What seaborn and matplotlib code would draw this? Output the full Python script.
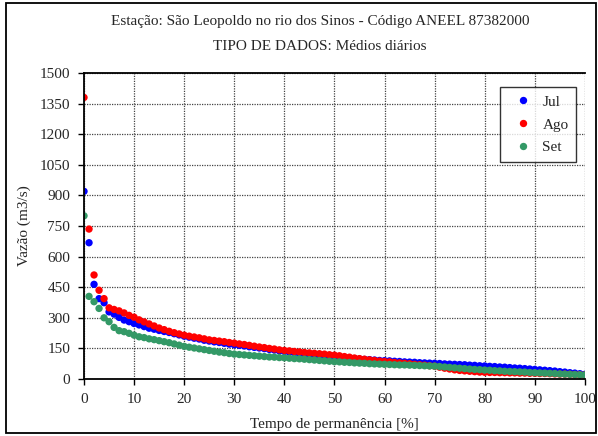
import numpy as np
import pandas as pd
import seaborn as sns
import matplotlib.pyplot as plt
from matplotlib.patches import Rectangle

# tempo de permanencia (%) e vazoes
pct = list(range(0, 101))

jul = [920, 668, 464, 394, 374, 329, 318, 302, 289, 281,
       272, 265, 257, 249, 244, 238, 233, 228, 222, 216,
       210, 205, 200, 196, 190, 186, 182, 179, 175, 171,
       168, 165, 162, 158, 155, 152, 149, 145, 142, 138,
       135, 132, 129, 126, 123, 120, 118, 115, 113, 110,
       108, 106, 104, 102, 100, 98, 96, 95, 93, 91,
       90, 89, 87, 86, 84, 83, 82, 80, 79, 78,
       77, 76, 74, 73, 72, 71, 70, 68, 67, 65,
       64, 62, 61, 59, 58, 56, 54, 53, 51, 49,
       47, 45, 43, 41, 39, 36, 34, 31, 29, 26,
       23]

ago = [1380, 735, 510, 435, 394, 349, 341, 334, 324, 312,
       303, 290, 280, 270, 260, 250, 242, 234, 227, 221,
       215, 210, 206, 202, 197, 192, 189, 186, 183, 179,
       176, 172, 169, 165, 161, 157, 154, 150, 147, 143,
       140, 138, 135, 133, 130, 128, 126, 124, 122, 119,
       117, 114, 110, 107, 103, 100, 97, 94, 91, 88,
       86, 84, 81, 79, 77, 75, 72, 70, 68, 65,
       63, 58, 53, 49, 45, 42, 40, 38, 36, 34,
       33, 32, 32, 31, 31, 30, 30, 29, 29, 28,
       28, 27, 27, 26, 25, 24, 24, 23, 22, 21,
       20]

setembro = [800, 405, 379, 346, 300, 281, 253, 237, 232, 224,
            215, 207, 203, 197, 193, 188, 183, 178, 172, 166,
            160, 156, 152, 148, 144, 140, 136, 132, 129, 125,
            122, 120, 118, 116, 114, 112, 110, 108, 107, 105,
            104, 102, 100, 99, 97, 95, 93, 91, 89, 87,
            85, 84, 82, 81, 79, 78, 77, 75, 74, 73,
            72, 71, 70, 69, 69, 68, 67, 66, 65, 64,
            63, 61, 59, 57, 55, 53, 51, 49, 47, 46,
            44, 43, 41, 40, 38, 37, 36, 35, 34, 32,
            31, 30, 29, 28, 27, 25, 24, 23, 22, 21,
            20]

meses = ['Jul', 'Ago', 'Set']
cores = ['#0000FF', '#FF0000', '#339966']

df = pd.DataFrame({
    'pct': pct * 3,
    'vazao': jul + ago + setembro,
    'mes': ['Jul'] * 101 + ['Ago'] * 101 + ['Set'] * 101,
})

sns.set_style('white')
plt.rcParams['font.family'] = ['Liberation Serif', 'DejaVu Serif']

fig = plt.figure(figsize=(5.98, 4.36), dpi=100)
ax = fig.add_axes([0.1405, 0.1307, 0.8375, 0.7019])

sns.scatterplot(data=df, x='pct', y='vazao', hue='mes', hue_order=meses,
                palette=cores, s=28, linewidth=0, ax=ax, legend=True)

ax.set_xlim(0, 100)
ax.set_ylim(0, 1500)
ax.set_xticks(range(0, 101, 10))
ax.set_yticks(range(0, 1501, 150))
ax.grid(True, color='#444444', linestyle=(0, (1, 1)), linewidth=0.9)
ax.set_axisbelow(True)
ax.tick_params(axis='both', labelsize=11, direction='out', length=4,
               width=1, color='black', bottom=True, left=True, pad=6)
for side in ['left', 'bottom', 'top']:
    ax.spines[side].set_color('black')
    ax.spines[side].set_linewidth(1.3)
ax.spines['right'].set_visible(False)

ax.set_xlabel('Tempo de permanência [%]', fontsize=11, labelpad=9)
ax.set_ylabel('Vazão (m3/s)', fontsize=11, labelpad=6)

leg = ax.legend(loc='upper right', bbox_to_anchor=(0.998, 0.978),
                frameon=True, fancybox=False, edgecolor='black',
                fontsize=11, handletextpad=0.3, borderpad=0.5,
                labelspacing=0.6, markerscale=1.0)
leg.get_frame().set_linewidth(1.0)

fig.text(0.535, 0.951, 'Estação: São Leopoldo no rio dos Sinos - Código ANEEL 87382000',
         ha='center', va='center', fontsize=11)
fig.text(0.535, 0.894, 'TIPO DE DADOS: Médios diários',
         ha='center', va='center', fontsize=11)

# moldura da figura
fig.patches.append(Rectangle((6 / 598, 3 / 436), 590 / 598, 430 / 436,
                             transform=fig.transFigure, fill=False,
                             edgecolor='black', linewidth=1.3))

fig.savefig('out.png', dpi=100)
